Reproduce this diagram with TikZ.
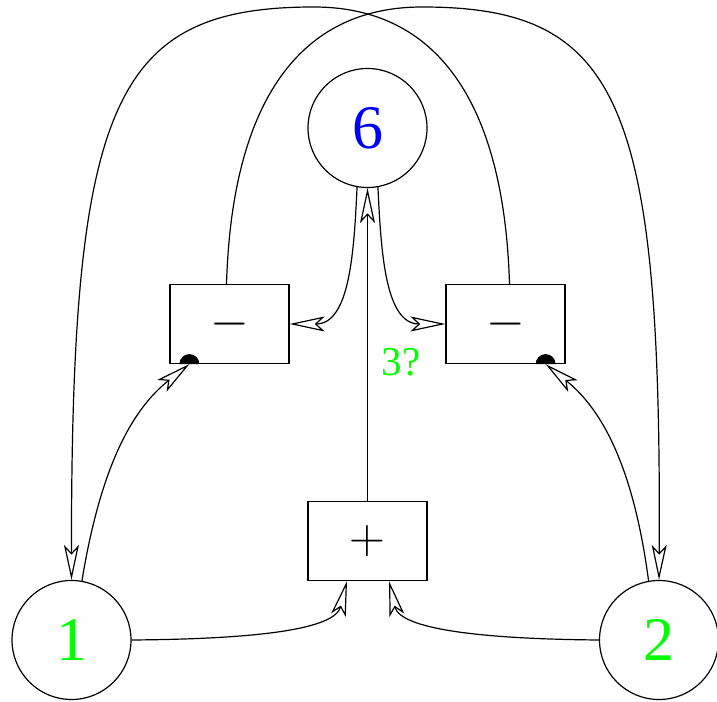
\documentclass[tikz,border=0pt]{standalone}
\usepackage{fontspec}
\setmainfont{Liberation Serif}
\usetikzlibrary{arrows.meta}
\begin{document}
\begin{tikzpicture}[x=0.5pt,y=0.5pt,line width=0.6pt,
    >={Stealth[open,length=17.5pt,width=7.5pt,inset=4pt]}]
    \tikzstyle{every node}+=[inner sep=0pt]
    \tikzstyle{state}=[draw,circle,minimum size=59.5pt,font=\fontsize{31}{31}\selectfont]
    \tikzstyle{opbox}=[draw,rectangle,minimum width=59.5pt,minimum height=39.5pt,font=\fontsize{33}{33}\selectfont]
    \useasboundingbox (0,0) rectangle (717,701);
    \node[state,text=blue]  (n6) at (367.5,573) {6};
    \node[state,text=green] (n1) at (71.5,61) {1};
    \node[state,text=green] (n2) at (659,61) {2};
    \node[opbox] (lm) at (229.5,377) {$-$};
    \node[opbox] (rm) at (505.5,377) {$-$};
    \node[opbox] (pl) at (367.5,160) {$+$};
    \node[text=green,font=\fontsize{20.5}{20.5}\selectfont] (q) at (401,339) {3?};
    % inhibitor dots
    \coordinate (dl) at ([xshift=10pt]lm.south west);
    \coordinate (dr) at ([xshift=-10pt]rm.south east);
    \fill (dl) ++(5pt,0) arc (0:180:5pt) -- cycle;
    \fill (dr) ++(5pt,0) arc (0:180:5pt) -- cycle;
    % sum
    \draw[->] (n1.east) .. controls (260,62) and (335,72) .. (pl.south -| 347,0);
    \draw[->] (n2.west) .. controls (480,62) and (400,72) .. (pl.south -| 389,0);
    \draw[->] (pl.north) -- (n6.south);
    % feedback from 6
    \draw[->] (n6.260) .. controls (354,450) and (350,377) .. (lm.east);
    \draw[->] (n6.280) .. controls (381,450) and (385,377) .. (rm.west);
    % into the dots
    \draw[->] (n1.80) .. controls (100,230) and (130,290) .. (dl);
    \draw[->] (n2.100) .. controls (634,230) and (604,290) .. (dr);
    % long loops over the top
    \draw[->] ([xshift=-1.5pt]lm.north) .. controls (232,600) and (300,694) .. (422,694)
        .. controls (620,694) and (662,600) .. (n2.north);
    \draw[->] ([xshift=2pt]rm.north) .. controls (504,600) and (436,694) .. (314,694)
        .. controls (114,694) and (71,600) .. (n1.north);
\end{tikzpicture}
\end{document}
